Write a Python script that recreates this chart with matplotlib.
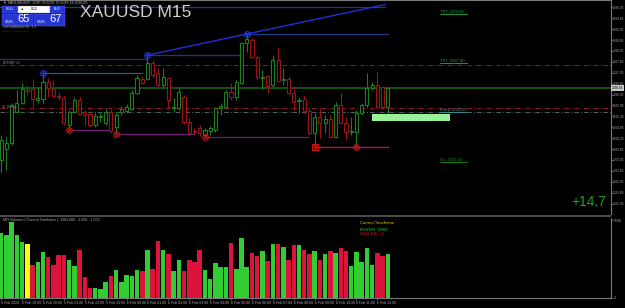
import matplotlib
matplotlib.use("Agg")
import matplotlib.pyplot as plt
from matplotlib.patches import Rectangle

plt.rcParams['font.family'] = ['Liberation Sans', 'DejaVu Sans']

# ---------------- data ----------------
opens = [2023.35, 2023.85, 2024.13, 2025.55, 2025.96, 2026.60, 2026.60, 2026.10, 2026.15, 2026.93,
         2026.60, 2026.28, 2026.19, 2024.95, 2025.55, 2026.10, 2025.55, 2025.46, 2024.95, 2025.32,
         2025.04, 2025.55, 2024.86, 2025.55, 2025.59, 2025.69, 2026.42, 2027.06, 2027.06, 2027.80,
         2027.34, 2026.79, 2027.11, 2025.73, 2025.73, 2026.24, 2025.09, 2024.68, 2024.81, 2024.49,
         2024.68, 2024.72, 2025.73, 2025.78, 2026.47, 2026.24, 2026.88, 2028.72, 2028.85, 2028.07,
         2027.11, 2027.20, 2026.79, 2027.94, 2027.02, 2027.06, 2026.42, 2026.05, 2026.15, 2025.59,
         2024.59, 2025.32, 2025.04, 2025.23, 2024.40, 2025.87, 2025.04, 2024.63, 2024.63, 2025.50,
         2025.87, 2026.65, 2026.79, 2026.70, 2025.78]
closes = [2024.26, 2024.13, 2025.87, 2025.96, 2026.60, 2026.51, 2026.15, 2026.19, 2026.93, 2026.65,
          2026.28, 2026.24, 2025.04, 2025.55, 2026.10, 2025.46, 2025.41, 2024.95, 2025.36, 2025.36,
          2025.55, 2024.68, 2025.41, 2025.69, 2025.78, 2026.42, 2027.11, 2026.88, 2027.80, 2027.25,
          2026.79, 2027.15, 2026.10, 2025.78, 2026.47, 2025.09, 2024.59, 2024.63, 2024.59, 2024.72,
          2024.81, 2025.73, 2025.82, 2026.47, 2026.24, 2026.93, 2028.72, 2028.90, 2028.07, 2027.15,
          2027.15, 2026.74, 2027.94, 2026.97, 2027.06, 2026.42, 2026.01, 2026.10, 2025.59, 2024.59,
          2025.32, 2025.04, 2025.23, 2024.40, 2025.87, 2025.04, 2024.63, 2024.68, 2025.50, 2025.87,
          2026.65, 2026.79, 2025.78, 2025.78, 2026.65]
highs = [2024.49, 2024.40, 2025.96, 2026.56, 2026.88, 2026.79, 2027.06, 2026.70, 2027.34, 2027.11,
         2027.02, 2026.47, 2026.33, 2025.64, 2026.24, 2026.24, 2025.64, 2025.55, 2025.50, 2025.50,
         2025.73, 2025.69, 2025.55, 2025.82, 2025.92, 2026.56, 2027.25, 2027.20, 2028.16, 2027.94,
         2027.57, 2027.57, 2027.15, 2026.19, 2026.65, 2026.33, 2025.27, 2024.81, 2024.95, 2024.81,
         2024.91, 2025.78, 2025.96, 2026.56, 2026.88, 2027.02, 2028.76, 2029.13, 2028.95, 2028.16,
         2027.48, 2027.25, 2028.16, 2028.53, 2027.57, 2027.20, 2026.70, 2026.24, 2026.33, 2025.73,
         2025.50, 2025.73, 2025.41, 2025.41, 2026.01, 2026.42, 2025.32, 2025.32, 2025.64, 2025.96,
         2027.34, 2026.93, 2027.38, 2026.74, 2026.70]
lows = [2022.80, 2022.89, 2024.04, 2025.50, 2025.92, 2026.33, 2025.78, 2025.96, 2025.96, 2026.24,
        2026.24, 2026.10, 2024.95, 2024.72, 2025.50, 2025.41, 2024.95, 2024.86, 2024.86, 2025.09,
        2024.95, 2024.59, 2024.54, 2025.41, 2025.50, 2025.64, 2026.37, 2026.83, 2027.02, 2027.11,
        2026.70, 2026.70, 2025.73, 2025.59, 2025.64, 2025.00, 2024.45, 2024.49, 2024.45, 2024.40,
        2024.49, 2024.63, 2025.41, 2025.69, 2026.10, 2026.10, 2026.83, 2028.30, 2028.03, 2027.02,
        2026.60, 2026.42, 2026.70, 2026.93, 2026.79, 2026.33, 2025.64, 2025.50, 2025.50, 2024.49,
        2023.94, 2024.36, 2024.59, 2024.36, 2024.36, 2025.00, 2024.26, 2024.49, 2023.94, 2025.41,
        2025.78, 2026.56, 2025.73, 2025.69, 2025.18]
volumes = [2911, 2835, 3406, 2835, 2534, 2430, 1454, 1589, 2070, 1832,
           1454, 1904, 1904, 1679, 1427, 2129, 945, 450, 437, 392,
           689, 959, 1229, 689, 1035, 977, 1260, 1184, 2129, 1274,
           2579, 2160, 1980, 1215, 1679, 1184, 1710, 1607, 2160, 1229,
           824, 1575, 1364, 1395, 2444, 1274, 2700, 1382, 1994, 1859,
           2084, 1634, 2417, 2430, 2282, 1679, 2385, 2354, 2129, 1980,
           2102, 1679, 1980, 2102, 2012, 2219, 2102, 1427, 2057, 1620,
           2237, 1485, 1994, 1859, 1982]
highlight_bars = [5]

time_label_bars = [0, 4, 8, 12, 16, 20, 24, 28, 32, 36, 40, 44, 48, 52, 56, 60, 64, 68, 72]
time_labels = ["5 Feb 2024", "5 Feb 19:00", "5 Feb 20:00", "5 Feb 21:00", "5 Feb 22:00",
               "5 Feb 23:00", "6 Feb 00:00", "6 Feb 01:00", "6 Feb 02:00", "6 Feb 03:00",
               "6 Feb 04:00", "6 Feb 05:00", "6 Feb 06:00", "6 Feb 07:00", "6 Feb 08:00",
               "6 Feb 09:00", "6 Feb 10:00", "6 Feb 11:00", "6 Feb 12:00"]
price_ticks = [2030.35, 2029.85, 2029.35, 2028.85, 2028.35, 2027.85, 2027.35, 2026.85, 2026.35,
               2025.85, 2025.35, 2024.85, 2024.35, 2023.85, 2023.35, 2022.85, 2022.35, 2021.85, 2021.35]

current_price = 2026.65
bid, ask = "65", "67"
red_levels = [2027.69, 2025.72]
grey_level = 2025.56
swing_high_bars = [8, 28, 47]
swing_high_prices = [2027.34, 2028.16, 2029.13]
swing_low_bars = [13, 22, 39, 68]
swing_low_prices = [2024.72, 2024.54, 2024.40, 2023.94]
break_bar, break_price = 60, 2023.94
top_level = 2030.37
left_high_level = 2027.98
zone_bars = (71, 86)
zone_prices = (2025.13, 2025.46)
target_names = ["TP2: 2030.05", "TP1: 2027.80", "Entry: 2025.53", "SL: 2023.25"]
target_levels = [2030.05, 2027.80, 2025.53, 2023.25]
target_colors = ['#22a84a', '#22a84a', '#3a9a9a', '#129012']
profit_text = "+14.7"

# ---------------- figure ----------------
W, H = 625, 308
fig = plt.figure(figsize=(W / 100, H / 100), dpi=100, facecolor='black')


def ax_px(x0, y0, x1, y1):
    return fig.add_axes([x0 / W, 1 - y1 / H, (x1 - x0) / W, (y1 - y0) / H])


XMIN, XMAX = -0.23, 116.63
GREY = '#7a7a7a'
TXT = '#a8a8a8'

ax = ax_px(0, 0, 610.5, 214)
ax.set_facecolor('black')
ax.set_xlim(XMIN, XMAX)
ax.set_ylim(2020.87, 2030.69)

up_col, dn_col = '#1c7f1c', '#9a1414'
for i, (o, h, l, c) in enumerate(zip(opens, highs, lows, closes)):
    col = up_col if c >= o else dn_col
    ax.vlines(i, l, h, color=col, lw=0.8, zorder=3)
    lo, hi = min(o, c), max(o, c)
    ax.add_patch(Rectangle((i - 0.3, lo), 0.6, max(hi - lo, 0.02), facecolor='black',
                           edgecolor=col, lw=0.8, zorder=4))

# horizontal levels
ax.axhline(current_price, color='#1a6a1a', lw=1.1, zorder=2)
for lv in red_levels:
    ax.axhline(lv, color='#8c1c1c', lw=0.7, ls=(0, (5, 2, 1, 2)), zorder=2)
ax.axhline(grey_level, color='#4a6464', lw=0.7, ls=(0, (5, 2, 1, 2)), zorder=2)

# blue structure lines
ax.plot([XMIN, 73.5], [top_level, top_level], color='#26387a', lw=0.9, zorder=2)
ax.plot([XMIN, swing_high_bars[1]], [left_high_level, left_high_level], color='#22386e', lw=0.9, zorder=2)
ax.plot([swing_high_bars[1], 45.75], [swing_high_prices[1]] * 2, color='#22386e', lw=0.9, zorder=2)
ax.plot([swing_high_bars[0], 26.9], [swing_high_prices[0]] * 2, color='#34508a', lw=0.9, zorder=2)
ax.plot([swing_high_bars[2], 74], [swing_high_prices[2]] * 2, color='#1f3a80', lw=0.9, zorder=2)
slope = (swing_high_prices[2] - swing_high_prices[1]) / (swing_high_bars[2] - swing_high_bars[1])
ax.plot([swing_high_bars[1], 73.5],
        [swing_high_prices[1], swing_high_prices[1] + slope * (73.5 - swing_high_bars[1])],
        color='#2030d8', lw=1.0, zorder=2)
ax.plot(swing_high_bars, swing_high_prices, 'o', ms=4, mfc='none', mec='#2a3ae0', mew=0.8, zorder=6)
ax.plot(swing_high_bars, swing_high_prices, '.', ms=2, color='#2a3ae0', zorder=6)

# lows
low_ends = [20.8, 37.0, 58.8]
for b, p, e in zip(swing_low_bars[:3], swing_low_prices[:3], low_ends):
    ax.plot([b, e], [p, p], color='#701a70', lw=0.9, zorder=2)
ax.plot([break_bar, 74], [break_price, break_price], color='#c0104a', lw=1.0, zorder=2)
ax.plot(swing_low_bars, swing_low_prices, 'o', ms=4, mfc='none', mec='#d01414', mew=0.8, zorder=6)
ax.plot(swing_low_bars, swing_low_prices, '.', ms=2, color='#d01414', zorder=6)
ax.plot([break_bar], [break_price], 's', ms=5, mfc='none', mec='#d01414', mew=0.8, zorder=6)
ax.plot([break_bar], [break_price], 'x', ms=3, color='#d01414', mew=0.6, zorder=6)

# zone
ax.add_patch(Rectangle((zone_bars[0], zone_prices[0]), zone_bars[1] - zone_bars[0],
                       zone_prices[1] - zone_prices[0], facecolor='#98f098', edgecolor='none', zorder=3))

# target labels
for name, lv, col in zip(target_names, target_levels, target_colors):
    ax.text(83.9, lv, name, color=col, fontsize=3, va='bottom', ha='left', zorder=7)
    ax.plot([83.9, 89.1], [lv, lv], color=col, lw=0.6, zorder=7)

# axes styling
ax.yaxis.tick_right()
ax.set_yticks(price_ticks)
ax.set_yticklabels([f"{p:.2f}" for p in price_ticks])
ax.tick_params(axis='y', colors=GREY, labelcolor=TXT, labelsize=2.3, length=1.2, width=0.5, pad=0.6)
ax.set_xticks([])
for s in ['left', 'bottom']:
    ax.spines[s].set_visible(False)
for s in ['top', 'right']:
    ax.spines[s].set_color(GREY)
    ax.spines[s].set_linewidth(0.8)
ax.annotate(f"{current_price:.2f}", xy=(1, current_price), xycoords=('axes fraction', 'data'),
            xytext=(1.0, 0), textcoords='offset points', fontsize=2.3, color='black', va='center',
            ha='left', bbox=dict(boxstyle='square,pad=0.2', fc='#c8c8c8', ec='none'),
            annotation_clip=False)

# ---------------- volume panel ----------------
ax2 = ax_px(0, 217.5, 610.5, 297.5)
ax2.set_facecolor('black')
ax2.set_xlim(XMIN, XMAX)
ax2.set_ylim(0, 3620)
vcols = []
for i, (o, c) in enumerate(zip(opens, closes)):
    if i in highlight_bars:
        vcols.append('#ffff00')
    else:
        vcols.append('#32cd32' if c >= o else '#dc143c')
ax2.bar(range(len(volumes)), volumes, width=0.86, color=vcols, edgecolor='none', zorder=3)
ax2.yaxis.tick_right()
ax2.set_yticks([0, 3500])
ax2.set_yticklabels(["0", "3500"])
ax2.set_xticks(time_label_bars)
ax2.set_xticklabels(time_labels)
for lab in ax2.get_xticklabels():
    lab.set_ha('left')
ax2.tick_params(axis='both', colors=GREY, labelcolor=TXT, labelsize=2.6, length=1.2, width=0.5, pad=1)
for s in ['left', 'top']:
    ax2.spines[s].set_visible(False)
for s in ['bottom', 'right']:
    ax2.spines[s].set_color(GREY)
    ax2.spines[s].set_linewidth(0.8)

# ---------------- overlay (pixel coords) ----------------
ov = fig.add_axes([0, 0, 1, 1], zorder=10)
ov.set_xlim(0, W)
ov.set_ylim(H, 0)
ov.axis('off')
ov.patch.set_alpha(0)

ov.add_patch(Rectangle((0, 214.5), 611, 2.2, facecolor='#4a4a4a', edgecolor='none'))

ov.text(3, 2.6, "\u25bc XAUUSD,M15  2025.78 2026.70 2025.18 2026.65", fontsize=2.6,
        color='#c0c0c0', va='center', ha='left')
ov.text(80, 12.5, "XAUUSD M15", fontsize=12.5, color='#d0d0d0', va='center', ha='left')

# trade widget
blue = '#2636d2'
ov.add_patch(Rectangle((2, 6), 16, 6.5, facecolor=blue, edgecolor='#5a6aff', lw=0.3))
ov.text(10, 9.3, "SELL", fontsize=2.5, color='white', ha='center', va='center')
ov.add_patch(Rectangle((18, 6), 32, 6.5, facecolor='white', edgecolor='#909090', lw=0.3))
ov.text(21, 9.3, "\u25c4", fontsize=2.5, color='black', ha='center', va='center')
ov.text(34, 9.3, "0.12", fontsize=2.5, color='black', ha='center', va='center')
ov.add_patch(Rectangle((50, 6), 15, 6.5, facecolor=blue, edgecolor='#5a6aff', lw=0.3))
ov.text(57.5, 9.3, "BUY", fontsize=2.5, color='white', ha='center', va='center')
for x0, val in [(2, bid), (34, ask)]:
    ov.add_patch(Rectangle((x0, 13.5), 31, 12.5, facecolor=blue, edgecolor='#5a6aff', lw=0.3))
    ov.text(x0 + 3, 22, "2026", fontsize=2.8, color='white', ha='left', va='center')
    ov.text(x0 + 15, 19.5, val, fontsize=8, color='white', ha='left', va='center')
ov.text(3, 27, "onProfitMaker=RL 1.0", fontsize=2.4, color='#9a9a9a', ha='left', va='center')
ov.text(3, 31, "- - - - - - - - - - - - -", fontsize=2.4, color='#9a9a9a', ha='left', va='center')
ov.text(3, 63.5, "ATRBR ##", fontsize=2.5, color='#8a8a8a', ha='left', va='center')
ov.text(2, 107.5, "SL Below", fontsize=2.5, color='#8a8a8a', ha='left', va='center')

ov.text(571, 202, profit_text, fontsize=10, color='#1fa01f', ha='left', va='center')

ov.text(3, 220.5, "MFI Volumes ( Current Timeframe )  1982.000  -1.000  -1.000", fontsize=2.5,
        color='#b0b0b0', ha='left', va='center')
ov.text(360, 223.3, "Current Timeframe", fontsize=3, color='#d4d400', ha='left', va='center')
ov.text(360, 229.7, "BUYER: 1982", fontsize=3.2, color='#2fcf2f', ha='left', va='center')
ov.text(360, 234.2, "SELLER: -1", fontsize=3.2, color='#dc143c', ha='left', va='center')

fig.savefig("out.png", dpi=100, facecolor='black')
